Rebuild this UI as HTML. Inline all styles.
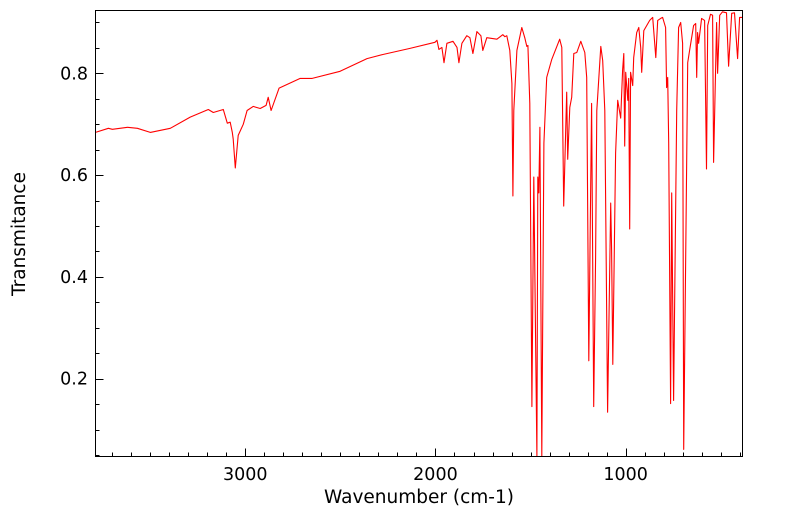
<!DOCTYPE html>
<html><head><meta charset="utf-8"><style>
body{margin:0;background:#fff}
svg{display:block;font-family:"DejaVu Sans","Liberation Sans",sans-serif}
</style></head><body>
<svg id="chart" width="799" height="516" viewBox="0 0 799 516" xmlns="http://www.w3.org/2000/svg">
<g id="ticks"></g>
<path id="line" fill="none" stroke="#ff0000" stroke-width="1.1" stroke-linejoin="round"></path>
<rect x="95.5" y="10.5" width="647" height="446" fill="none" stroke="#000" stroke-width="1"></rect>
<text x="419" y="503" font-size="18.5" text-anchor="middle">Wavenumber (cm-1)</text>
<text transform="translate(25,234) rotate(-90)" font-size="18.5" text-anchor="middle">Transmitance</text>
</svg>
<script>
const wavenumbers=[3787,3719,3698,3619,3567,3499,3394,3289,3194,3168,3115,3094,3079,3068,3063,3052,3037,3010,2990,2958,2921,2890,2879,2864,2822,2711,2648,2501,2360,2276,2134,2003,1992,1982,1966,1955,1940,1908,1887,1877,1861,1835,1819,1803,1782,1761,1751,1730,1677,1646,1635,1625,1609,1598,1593,1588,1572,1546,1530,1520,1514,1504,1493,1483,1467,1462,1457,1451,1441,1430,1415,1389,1347,1336,1326,1310,1305,1294,1284,1273,1257,1236,1215,1205,1194,1179,1168,1158,1152,1131,1121,1110,1095,1079,1074,1068,1053,1042,1026,1016,1010,1005,1000,989,984,979,974,963,958,942,931,921,916,905,874,858,842,832,816,806,790,785,779,774,764,758,748,732,722,711,701,695,674,664,643,632,627,622,617,601,585,575,569,554,543,538,522,517,506,491,470,459,443,428,412,401,386];
const transmittance=[.684,.692,.690,.694,.692,.684,.692,.714,.729,.723,.729,.702,.704,.684,.671,.614,.678,.700,.727,.735,.731,.737,.753,.727,.771,.790,.790,.804,.829,.837,.849,.861,.865,.847,.851,.821,.859,.863,.851,.821,.859,.874,.870,.839,.882,.874,.845,.870,.867,.876,.872,.874,.845,.780,.559,.727,.845,.890,.869,.853,.855,.741,.145,.596,.047,.596,.565,.694,.047,.663,.792,.827,.867,.851,.539,.763,.631,.733,.753,.839,.841,.863,.841,.792,.235,.741,.145,.439,.727,.853,.825,.727,.134,.545,.453,.228,.643,.747,.712,.806,.839,.657,.802,.747,.790,.494,.802,.776,.831,.880,.890,.851,.802,.884,.904,.910,.831,.904,.908,.910,.890,.772,.792,.663,.151,.565,.157,.727,.890,.900,.859,.061,.821,.845,.894,.898,.792,.880,.859,.908,.904,.612,.894,.916,.914,.625,.900,.800,.914,.921,.919,.814,.918,.919,.829,.910,.910];
const xTickLabels=[3000,2000,1000];
const yTickLabels=[0.2,0.4,0.6,0.8];
const X0=95.5,X1=742.5,Y0=456.5,Y1=10.5;
const xMax=3787,xMin=386,yMin=0.047,yMax=0.9235;
function xs(w){return X0+(xMax-w)/(xMax-xMin)*(X1-X0);}
function ys(t){return Y0-(t-yMin)/(yMax-yMin)*(Y0-Y1);}
let d='';
for(let i=0;i<wavenumbers.length;i++){d+=(i?'L':'M')+xs(wavenumbers[i]).toFixed(1)+' '+ys(transmittance[i]).toFixed(1);}
document.getElementById('line').setAttribute('d',d);
const g=document.getElementById('ticks');
const NS='http://www.w3.org/2000/svg';
function ln(x1,y1,x2,y2,name){const l=document.createElementNS(NS,'line');
l.setAttribute('x1',x1);l.setAttribute('y1',y1);l.setAttribute('x2',x2);l.setAttribute('y2',y2);l.setAttribute('stroke','#000');


g.appendChild(l);}
function tx(x,y,s,anchor,name){const t=document.createElementNS(NS,'text');
t.setAttribute('x',x);t.setAttribute('y',y);t.setAttribute('font-size','17.5');t.setAttribute('text-anchor',anchor);t.textContent=s;


g.appendChild(t);}
for(let w=3700;w>=400;w-=100){const x=Math.round(xs(w))+0.5;const major=w%1000===0;ln(x,Y0,x,Y0-(major?8:4),'x-tick');}
xTickLabels.forEach(w=>tx(xs(w),480,String(w),'middle','x-tick-label'));
for(let k=1;k<=18;k++){const t=k*0.05;if(t<yMin||t>yMax)continue;const y=Math.round(ys(t))+0.5;const major=(k%4===0);ln(X0,y,X0+(major?8:4),y,'y-tick');}
yTickLabels.forEach(t=>tx(88,ys(t)+6,t.toFixed(1),'end','y-tick-label'));
</script>
</body></html>
